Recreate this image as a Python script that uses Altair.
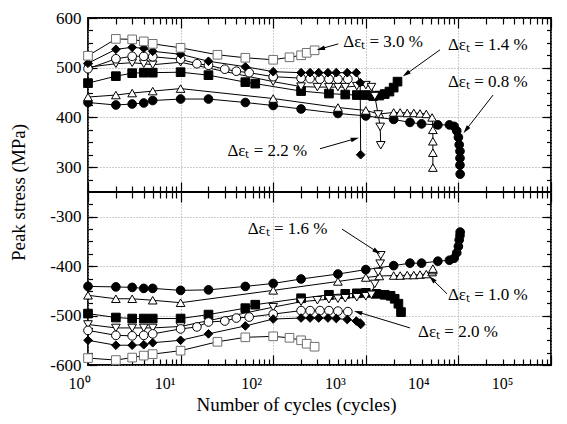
import math
import altair as alt
import pandas as pd

FONT = "Liberation Serif"

# ---- series definitions -------------------------------------------------
STRAINS = ["0.8", "1.0", "1.4", "1.6", "2.0", "2.2", "3.0"]
SHAPES = ["circle", "triangle-up", "square", "triangle-down", "circle", "diamond", "square"]
FILLS = ["black", "white", "black", "white", "white", "black", "white"]
STROKES = ["black", "black", "black", "black", "black", "black", "#707070"]

# 0.8 %  (filled circle)
n_08_t = [1, 2, 3, 4, 5, 10, 20, 50, 100, 200, 500, 1000, 2000, 3000, 4000, 6000, 8000, 9000, 9600, 10000, 10200, 10400, 10400, 10400, 10450]
s_08_t = [430, 425, 427, 429, 434, 437, 437, 430, 424, 417, 408, 403, 396, 390, 387, 385, 385, 382, 373, 360, 345, 332, 318, 304, 286]
n_08_c = [1, 2, 3, 4, 5, 10, 20, 50, 100, 200, 500, 1000, 2000, 3000, 4000, 6000, 8000, 9000, 9600, 10000, 10200, 10400, 10450]
s_08_c = [-441, -442, -443, -445, -445, -449, -448, -441, -435, -426, -416, -407, -399, -394, -394, -390, -388, -384, -373, -360, -347, -338, -331]

# 1.0 %  (open triangle up)
n_10_t = [1, 2, 3, 5, 10, 100, 500, 1000, 1400, 2000, 2350, 2800, 3300, 3850, 4500, 5200, 5300, 5300, 5300, 5300]
s_10_t = [441, 445, 449, 453, 458, 438, 420, 414, 407, 410, 410, 409, 409, 408, 407, 400, 375, 352, 329, 299]
n_10_c = [1, 2, 3, 5, 10, 100, 500, 1000, 1400, 2000, 2350, 2800, 3300, 3850, 4500, 5200, 5300, 5300]
s_10_c = [-459, -466, -466, -469, -474, -449, -431, -423, -420, -419, -419, -418, -418, -417, -416, -412, -408, -405]

# 1.4 %  (filled square)
n_14_t = [1, 2, 3, 4, 5, 10, 20, 50, 64, 200, 400, 600, 800, 1000, 1200, 1400, 1600, 1800, 2000, 2200]
s_14_t = [469, 483, 489, 490, 490, 491, 485, 471, 468, 453, 448, 446, 445, 445, 443, 444, 447, 452, 460, 472]
n_14_c = [1, 2, 3, 4, 5, 10, 20, 50, 64, 200, 400, 600, 800, 1000, 1300, 1600, 1850, 2050, 2250, 2400]
s_14_c = [-496, -504, -506, -506, -506, -506, -498, -485, -478, -465, -458, -456, -455, -454, -456, -458, -460, -466, -476, -493]

# 1.6 %  (open triangle down)
n_16_t = [1, 2, 3, 4, 5, 10, 100, 200, 300, 400, 500, 600, 800, 1000, 1150, 1250, 1360, 1430, 1450]
s_16_t = [501, 508, 510, 508, 506, 511, 472, 462, 461, 461, 461, 461, 463, 465, 461, 443, 406, 381, 344]
n_16_c = [1, 2, 3, 4, 5, 10, 100, 200, 300, 400, 500, 600, 800, 1000, 1150, 1250, 1360, 1430, 1450]
s_16_c = [-518, -525, -525, -525, -525, -522, -483, -472, -469, -467, -466, -465, -463, -461, -458, -436, -412, -395, -378]

# 2.0 %  (open circle)
n_20_t = [1, 2, 3, 4, 5, 10, 15, 20, 30, 40, 55, 100, 200, 250, 320, 400, 500, 640]
s_20_t = [498, 518, 523, 523, 522, 517, 508, 505, 497, 493, 490, 482, 479, 478, 477, 477, 477, 477]
n_20_c = [1, 2, 3, 4, 5, 10, 15, 20, 30, 40, 55, 100, 200, 250, 320, 400, 500, 640]
s_20_c = [-530, -540, -541, -540, -537, -527, -523, -513, -511, -505, -503, -497, -490, -490, -490, -490, -491, -492]

# 2.2 %  (filled diamond)
n_22_t = [1, 2, 3, 4, 5, 10, 20, 50, 100, 200, 250, 310, 390, 480, 630, 790, 870, 880]
s_22_t = [509, 537, 541, 539, 533, 527, 513, 502, 492, 490, 490, 490, 490, 490, 490, 490, 470, 325]
n_22_c = [1, 2, 3, 4, 5, 10, 20, 50, 100, 200, 250, 310, 390, 480, 630, 790, 870, 880]
s_22_c = [-550, -560, -560, -559, -555, -550, -537, -521, -507, -505, -505, -505, -505, -506, -508, -511, -515, -518]

# 3.0 %  (open square)
n_30_t = [1, 2, 3, 4, 5, 10, 25, 50, 100, 150, 200, 230, 280]
s_30_t = [524, 558, 557, 553, 548, 540, 526, 520, 516, 521, 525, 530, 535]
n_30_c = [1, 2, 3, 4, 5, 10, 25, 50, 100, 150, 200, 230, 280]
s_30_c = [-586, -590, -585, -581, -578, -571, -553, -544, -542, -545, -550, -557, -563]

TENSION = {"0.8": (n_08_t, s_08_t), "1.0": (n_10_t, s_10_t), "1.4": (n_14_t, s_14_t),
           "1.6": (n_16_t, s_16_t), "2.0": (n_20_t, s_20_t), "2.2": (n_22_t, s_22_t),
           "3.0": (n_30_t, s_30_t)}
COMPRESSION = {"0.8": (n_08_c, s_08_c), "1.0": (n_10_c, s_10_c), "1.4": (n_14_c, s_14_c),
               "1.6": (n_16_c, s_16_c), "2.0": (n_20_c, s_20_c), "2.2": (n_22_c, s_22_c),
               "3.0": (n_30_c, s_30_c)}

# ---- annotations ---------------------------------------------------------
ann_top_label = ["Δεₜ = 3.0 %", "Δεₜ = 1.4 %", "Δεₜ = 0.8 %", "Δεₜ = 2.2 %"]
ann_top_n = [570, 7700, 7700, 32]
ann_top_s = [552, 546, 471, 333]
arr_top_n0 = [505, 6325, 23650, 320]
arr_top_s0 = [548, 536, 445, 337]
arr_top_n1 = [326, 2718, 12080, 764]
arr_top_s1 = [538, 487, 375, 357]

ann_bot_label = ["Δεₜ = 1.6 %", "Δεₜ = 1.0 %", "Δεₜ = 2.0 %"]
ann_bot_n = [53, 7700, 3660]
ann_bot_s = [-325, -458, -533]
arr_bot_n0 = [553, 7530, 3000]
arr_bot_s0 = [-325, -456, -525]
arr_bot_n1 = [1321, 5190, 824]
arr_bot_s1 = [-371, -426, -493]

# ---- axis tick values ----------------------------------------------------
X_MAJOR = [1, 10, 100, 1000, 10000, 100000]
X_MINOR = [k * 10 ** d for d in range(5) for k in range(2, 10)]
Y_TOP_MAJOR = [300, 400, 500, 600]
Y_TOP_MINOR = list(range(275, 600, 25))
Y_BOT_MAJOR = [-600, -500, -400, -300]
Y_BOT_MINOR = list(range(-575, -250, 25))

W = 463
H_TOP = 174
H_BOT = 173
PX_PER_DECADE = W / 5.0


def series_frame(table):
    rows = []
    for strain, (ns, ss) in table.items():
        for i, (n, s) in enumerate(zip(ns, ss)):
            rows.append({"strain": strain, "N": n, "S": s, "i": i})
    return pd.DataFrame(rows)


def ann_frame(labels, tn, ts, n0, s0, n1, s1, px_per_mpa):
    rows = []
    for k in range(len(labels)):
        dxp = (math.log10(n1[k]) - math.log10(n0[k])) * PX_PER_DECADE
        dyp = -(s1[k] - s0[k]) * px_per_mpa
        ang = (math.degrees(math.atan2(dxp, -dyp)) + 360) % 360
        rows.append({"label": labels[k], "tn": tn[k], "ts": ts[k], "n0": n0[k], "s0": s0[k],
                     "n1": n1[k], "s1": s1[k], "ang": ang})
    return pd.DataFrame(rows)


LABEL_OFFSET = {"condition": [
    {"test": "datum.value < 5", "value": -9},
    {"test": "datum.value < 50", "value": -16},
    {"test": "datum.value < 500", "value": -22},
    {"test": "datum.value < 5000", "value": -31},
    {"test": "datum.value < 50000", "value": -40}],
    "value": -49}


def xaxis(orient, major, labels=False, grid=False, title=None):
    size = 10 if major else 6
    d = dict(orient=orient, values=X_MAJOR if major else X_MINOR, tickSize=size, offset=-size,
             domain=False, grid=grid, labels=labels, tickColor="black", tickWidth=1.2,
             title=title)
    if grid:
        d.update(gridColor="#9a9a9a", gridDash=[1, 2], gridWidth=1)
    if labels:
        d.update(labelExpr="'10' + ['⁰','¹','²','³','⁴','⁵'][round(log(datum.value)/LN10)]",
                 labelFont=FONT, labelFontSize=16, labelColor="black", labelPadding=10,
                 labelFlush=False, labelOffset=LABEL_OFFSET)
    if title:
        d.update(titleFont=FONT, titleFontSize=19, titleFontWeight="normal", titleColor="black",
                 titlePadding=4, titleX=208)
    return alt.Axis(**d)


def yaxis(orient, values, major, labels=False, grid=False, title=None):
    size = 9 if major else 4.5
    d = dict(orient=orient, values=values, tickSize=size, offset=-size, domain=False,
             grid=grid, labels=labels, tickColor="black", tickWidth=1.2, title=title)
    if grid:
        d.update(gridColor="#9a9a9a", gridDash=[1, 2], gridWidth=1)
    if labels:
        d.update(labelExpr="'' + datum.value", labelFont=FONT, labelFontSize=17,
                 labelColor="black", labelPadding=7)
    if title:
        d.update(titleFont=FONT, titleFontSize=19, titleFontWeight="normal", titleColor="black",
                 titleX=-69, titleY=H_TOP, titleAngle=270, titleBaseline="bottom",
                 titleAlign="center")
    return alt.Axis(**d)


def panel(table, ann, ydom, ymaj, ymin, height, bottom):
    df = series_frame(table)
    xs = alt.Scale(type="log", domain=[1, 100000], nice=False)
    ys = alt.Scale(domain=ydom, nice=False, zero=False)

    lines = alt.Chart(df).mark_line(color="black", strokeWidth=1).encode(
        x=alt.X("N:Q", scale=xs, axis=xaxis("bottom", True, labels=bottom, grid=True,
                                           title="Number of cycles (cycles)" if bottom else None)),
        y=alt.Y("S:Q", scale=ys, axis=yaxis("left", ymaj, True, labels=True, grid=True,
                                           title=None if bottom else "Peak stress (MPa)")),
        detail="strain:N",
        order="i:Q",
    )
    pts = alt.Chart(df).mark_point(filled=True, opacity=1, size=75, strokeWidth=1).encode(
        x=alt.X("N:Q", scale=xs, axis=xaxis("bottom", False)),
        y=alt.Y("S:Q", scale=ys, axis=yaxis("left", ymin, False)),
        shape=alt.Shape("strain:N", scale=alt.Scale(domain=STRAINS, range=SHAPES), legend=None),
        fill=alt.Fill("strain:N", scale=alt.Scale(domain=STRAINS, range=FILLS), legend=None),
        stroke=alt.Stroke("strain:N", scale=alt.Scale(domain=STRAINS, range=STROKES), legend=None),
    )
    ax_major = alt.Chart(df).mark_point(opacity=0).encode(
        x=alt.X("N:Q", scale=xs, axis=xaxis("top", True)),
        y=alt.Y("S:Q", scale=ys, axis=yaxis("right", ymaj, True)),
    )
    ax_minor = alt.Chart(df).mark_point(opacity=0).encode(
        x=alt.X("N:Q", scale=xs, axis=xaxis("top", False)),
        y=alt.Y("S:Q", scale=ys, axis=yaxis("right", ymin, False)),
    )
    texts = alt.Chart(ann).mark_text(align="left", baseline="middle", font=FONT, fontSize=17,
                                     color="black").encode(
        x=alt.X("tn:Q", scale=xs, axis=None),
        y=alt.Y("ts:Q", scale=ys, axis=None),
        text="label:N",
    )
    rules = alt.Chart(ann).mark_rule(color="black", strokeWidth=1).encode(
        x=alt.X("n0:Q", scale=xs, axis=None),
        y=alt.Y("s0:Q", scale=ys, axis=None),
        x2="n1:Q",
        y2="s1:Q",
    )
    heads = alt.Chart(ann).mark_point(shape="M0,-1L0.55,1L-0.55,1Z", filled=True, color="black",
                                      opacity=1, size=70).encode(
        x=alt.X("n1:Q", scale=xs, axis=None),
        y=alt.Y("s1:Q", scale=ys, axis=None),
        angle=alt.Angle("ang:Q", scale=None),
    )
    return alt.layer(lines, pts, ax_major, ax_minor, rules, heads, texts).resolve_axis(
        x="independent", y="independent").properties(width=W, height=height)


ann_top = ann_frame(ann_top_label, ann_top_n, ann_top_s, arr_top_n0, arr_top_s0,
                    arr_top_n1, arr_top_s1, H_TOP / 350.0)
ann_bot = ann_frame(ann_bot_label, ann_bot_n, ann_bot_s, arr_bot_n0, arr_bot_s0,
                    arr_bot_n1, arr_bot_s1, H_BOT / 350.0)

top = panel(TENSION, ann_top, [250, 600], Y_TOP_MAJOR, Y_TOP_MINOR, H_TOP, False)
bot = panel(COMPRESSION, ann_bot, [-600, -250], Y_BOT_MAJOR, Y_BOT_MINOR, H_BOT, True)

chart = alt.vconcat(top, bot, spacing=0, bounds="flush").properties(
    padding={"left": 0, "top": 0, "right": 0, "bottom": 0},
    background="white",
).configure_view(stroke="black", strokeWidth=1.8)

chart.save("out.html", embed_options={"renderer": "svg", "actions": False})
